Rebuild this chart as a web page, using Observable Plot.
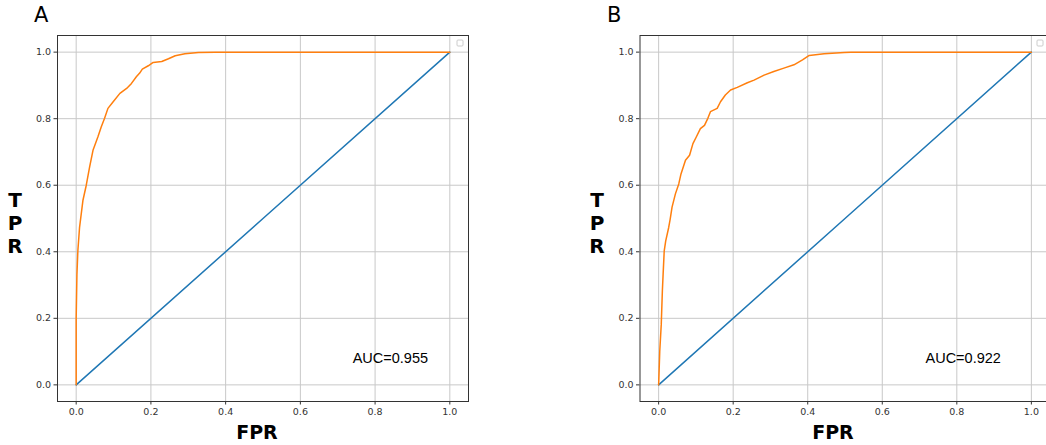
<!DOCTYPE html>
<html><head><meta charset="utf-8">
<script src="https://cdn.jsdelivr.net/npm/d3@7"></script>
<script src="https://cdn.jsdelivr.net/npm/@observablehq/plot@0.6"></script>
<style>
html,body{margin:0;padding:0;background:#fff;overflow:hidden;}
#wrap{position:relative;width:1046px;height:445px;overflow:hidden;background:#fff;}
.panel{position:absolute;top:0;}
#overlay{position:absolute;left:0;top:0;pointer-events:none;}
</style></head><body><div id="wrap"></div>
<script>
// Panel A ROC
const fprA = [0, 0, 0.002, 0.0045, 0.009, 0.018, 0.027, 0.036, 0.045, 0.058, 0.067, 0.076, 0.085, 0.099, 0.117, 0.135, 0.148, 0.161, 0.170, 0.177, 0.193, 0.206, 0.229, 0.247, 0.265, 0.291, 0.327, 0.372, 1.0];
const tprA = [0, 0.201, 0.332, 0.403, 0.473, 0.554, 0.600, 0.655, 0.705, 0.745, 0.775, 0.801, 0.831, 0.851, 0.876, 0.891, 0.906, 0.926, 0.937, 0.949, 0.959, 0.969, 0.972, 0.980, 0.989, 0.995, 0.999, 1.0, 1.0];
// Panel B ROC
const fprB = [0, 0.003, 0.007, 0.010, 0.012, 0.015, 0.019, 0.027, 0.031, 0.036, 0.045, 0.054, 0.060, 0.072, 0.083, 0.092, 0.101, 0.112, 0.123, 0.132, 0.139, 0.157, 0.166, 0.179, 0.193, 0.211, 0.238, 0.256, 0.283, 0.309, 0.336, 0.363, 0.386, 0.404, 0.444, 0.498, 0.516, 1.0];
const tprB = [0, 0.101, 0.181, 0.282, 0.332, 0.403, 0.433, 0.473, 0.498, 0.534, 0.574, 0.604, 0.634, 0.675, 0.690, 0.725, 0.745, 0.770, 0.780, 0.801, 0.821, 0.831, 0.851, 0.871, 0.886, 0.894, 0.908, 0.916, 0.931, 0.942, 0.952, 0.962, 0.977, 0.990, 0.995, 0.999, 1.0, 1.0];
// chance diagonal
const diagFpr = [0, 0.5, 1];
const diagTpr = [0, 0.5, 1];
const tickValues = [0, 0.2, 0.4, 0.6, 0.8, 1.0];
const panelLetters = ["A", "B"];
const aucLabels = ["AUC=0.955", "AUC=0.922"];
const aucPos = [[0.74, 0.065], [0.716, 0.065]];
const xLabel = "FPR";
const yLabel = ["T", "P", "R"];

const wrap = document.getElementById("wrap");

function makePanel(fpr, tpr, aucText, pos, cfg) {
  const roc = fpr.map((x, i) => ({x, y: tpr[i]}));
  const diag = diagFpr.map((x, i) => ({x, y: diagTpr[i]}));
  const fmt = d => d.toFixed(1);
  const p = Plot.plot({
    width: cfg.width, height: 445,
    marginLeft: cfg.ml, marginRight: cfg.mr, marginTop: 35, marginBottom: 44,
    x: {domain: [-0.05, 1.05], ticks: tickValues, tickFormat: fmt, label: null, tickSize: 3.5, tickPadding: 3},
    y: {domain: [-0.05, 1.05], ticks: tickValues, tickFormat: fmt, label: null, tickSize: 3.5, tickPadding: 3},
    style: {fontFamily: "DejaVu Sans", fontSize: "9.5px", color: "#333", background: "transparent"},
    marks: [
      Plot.ruleX(tickValues, {stroke: "#c8c8c8", strokeWidth: 1}),
      Plot.ruleY(tickValues, {stroke: "#c8c8c8", strokeWidth: 1}),
      Plot.line(diag, {x: "x", y: "y", stroke: "#1f77b4", strokeWidth: 1.5}),
      Plot.line(roc, {x: "x", y: "y", stroke: "#ff7f0e", strokeWidth: 1.5}),
      Plot.text([aucText], {x: pos[0], y: pos[1], text: d => d, textAnchor: "start", lineAnchor: "bottom",
        fontFamily: "Liberation Sans", fontSize: 14.5, fill: "#000"}),
      Plot.frame({stroke: "#333", strokeWidth: 1})
    ]
  });
  p.classList.add("panel");
  p.style.left = cfg.left + "px";
  wrap.appendChild(p);
}

makePanel(fprA, tprA, aucLabels[0], aucPos[0], {left: 0, width: 523, ml: 57, mr: 55});
makePanel(fprB, tprB, aucLabels[1], aucPos[1], {left: 523, width: 530, ml: 116.5, mr: 3.5});

// overlay: panel letters, axis labels, empty legend boxes
const ov = d3.select(wrap).append("svg").attr("id", "overlay").attr("width", 1046).attr("height", 445);
const letterX = [34, 607];
const tprX = [15, 597];
const fprX = [257, 833];
const legendX = [457, 1037];
panelLetters.forEach((L, i) => {
  ov.append("text").attr("x", letterX[i]).attr("y", 22).text(L)
    .attr("font-family", "DejaVu Sans").attr("font-size", 21).attr("fill", "#000");
  yLabel.forEach((c, j) => {
    ov.append("text").attr("x", tprX[i]).attr("y", 207 + j * 23.2).text(c)
      .attr("text-anchor", "middle").attr("font-family", "DejaVu Sans").attr("font-weight", "bold")
      .attr("font-size", 20).attr("fill", "#000");
  });
  ov.append("text").attr("x", fprX[i]).attr("y", 439).text(xLabel)
    .attr("text-anchor", "middle").attr("font-family", "DejaVu Sans").attr("font-weight", "bold")
    .attr("font-size", 19).attr("fill", "#000");
  ov.append("rect").attr("x", legendX[i]).attr("y", 40).attr("width", 6).attr("height", 6)
    .attr("rx", 1).attr("fill", "#fff").attr("stroke", "#ccc").attr("stroke-width", 1);
});
</script></body></html>
